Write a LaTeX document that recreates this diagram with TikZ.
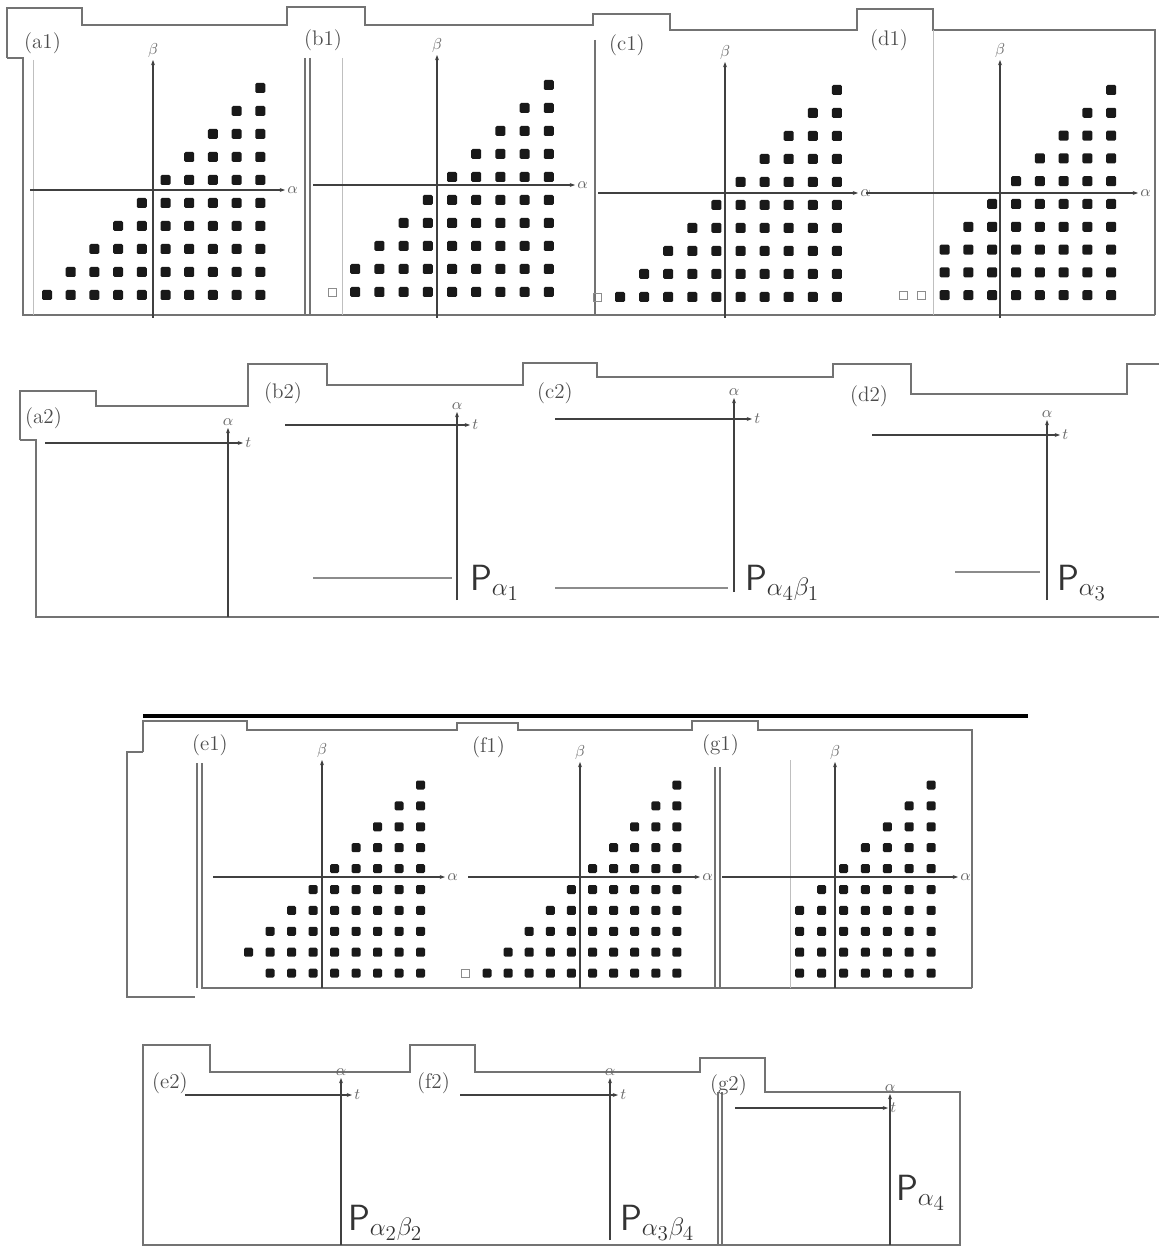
\documentclass[tikz,border=0pt]{standalone}
\usetikzlibrary{arrows.meta}

% grade de pontos (triangulo): coluna 0 em #1, passo #2; linha 0 em #3, passo #4
% #5 primeira coluna de todas as linhas, #6 primeira coluna da ultima linha
\newcommand{\dotgrid}[6]{%
  \foreach \rr in {0,...,9}{%
    \pgfmathtruncatemacro{\cfirst}{max(9-\rr,#5)}%
    \ifnum\rr=9 \pgfmathtruncatemacro{\cfirst}{max(\cfirst,#6)}\fi
    \foreach \cc in {\cfirst,...,9}{%
      \fill[dot] ({#1+\cc*#2-\ds/2},{#3+\rr*#4-\ds/2}) rectangle ++(\ds,\ds);
    }%
  }%
}

\begin{document}
\begin{tikzpicture}[x=0.02cm, y=-0.02cm,
    frame/.style={draw=black!55, line width=0.6pt},
    inner/.style={draw=black!25, line width=0.5pt},
    level/.style={draw=black!45, line width=0.6pt},
    axis/.style={draw=black!75, line width=0.7pt, -{Stealth[length=3pt]}},
    dot/.style={fill=black!90, rounded corners=0.8pt},
    hole/.style={draw=black!45, line width=0.5pt},
    tag/.style={font=\large, text=black!70, inner sep=1pt, anchor=west},
    axlab/.style={font=\small, text=black!60, inner sep=1pt},
    plab/.style={font=\huge, text=black!80, inner sep=1pt, anchor=base west}]

    \useasboundingbox (0,0) rectangle (1159,1260);

    % 1. VARIAVEIS
    \def\ds{10}   % lado de cada ponto

    % ==========================================
    % 2. LINHA (a1)-(d1): molduras
    % ==========================================
    \draw[frame] (7,58) -- (7,8) -- (82,8) -- (82,25) -- (287,25) -- (287,7) -- (365,7)
        -- (365,25) -- (593,25) -- (593,14) -- (670,14) -- (670,30) -- (857,30) -- (857,9)
        -- (933,9) -- (933,30) -- (1155,30) -- (1155,315);
    \draw[frame] (7,58) -- (23,58) -- (23,315) -- (1155,315);
    \draw[frame] (305,58) -- (305,315);
    \draw[frame] (310,58) -- (310,315);
    \draw[frame] (595,40) -- (595,315);
    \draw[inner] (33,60) -- (33,315);
    \draw[inner] (342,58) -- (342,315);
    \draw[inner] (933,30) -- (933,315);

    \node[tag] (a1) at (22,43) {(a1)};
    \node[tag] (b1) at (302,40) {(b1)};
    \node[tag] (c1) at (607,45) {(c1)};
    \node[tag] (d1) at (868,40) {(d1)};

    % eixos
    \draw[axis] (153,318) -- (153,60) node[above, axlab] (a1beta) {$\beta$};
    \draw[axis] (30,190) -- (285,190) node[right, axlab] (a1alpha) {$\alpha$};
    \draw[axis] (437,318) -- (437,55) node[above, axlab] (b1beta) {$\beta$};
    \draw[axis] (313,185) -- (575,185) node[right, axlab] (b1alpha) {$\alpha$};
    \draw[axis] (725,318) -- (725,62) node[above, axlab] (c1beta) {$\beta$};
    \draw[axis] (598,193) -- (858,193) node[right, axlab] (c1alpha) {$\alpha$};
    \draw[axis] (1000,318) -- (1000,60) node[above, axlab] (d1beta) {$\beta$};
    \draw[axis] (866,193) -- (1138,193) node[right, axlab] (d1alpha) {$\alpha$};

    % pontos
    \dotgrid{47}{23.7}{88}{23}{0}{0}
    \dotgrid{331}{24.2}{85}{23}{1}{1}
    \dotgrid{620}{24.1}{90}{23}{0}{0}
    \dotgrid{897}{23.8}{90}{22.8}{2}{2}
    \draw[hole] (328,288) rectangle ++(8,8);
    \draw[hole] (593,293) rectangle ++(8,8);
    \draw[hole] (899,291) rectangle ++(8,8);
    \draw[hole] (917,291) rectangle ++(8,8);

    % ==========================================
    % 3. LINHA (a2)-(d2)
    % ==========================================
    \draw[frame] (20,440) -- (20,391) -- (96,391) -- (96,406) -- (248,406) -- (248,364)
        -- (327,364) -- (327,385) -- (523,385) -- (523,363) -- (597,363) -- (597,377)
        -- (833,377) -- (833,364) -- (911,364) -- (911,394) -- (1127,394) -- (1127,364)
        -- (1159,364);
    \draw[frame] (20,440) -- (36,440) -- (36,617) -- (1159,617);

    \node[tag] (a2) at (23,418) {(a2)};
    \node[tag] (b2) at (262,393) {(b2)};
    \node[tag] (c2) at (535,393) {(c2)};
    \node[tag] (d2) at (848,396) {(d2)};

    \draw[axis] (228,617) -- (228,428) node[above, axlab] (a2alpha) {$\alpha$};
    \draw[axis] (45,443) -- (243,443) node[right, axlab] (a2t) {$t$};
    \draw[axis] (457,600) -- (457,412) node[above, axlab] (b2alpha) {$\alpha$};
    \draw[axis] (285,425) -- (470,425) node[right, axlab] (b2t) {$t$};
    \draw[axis] (734,592) -- (734,398) node[above, axlab] (c2alpha) {$\alpha$};
    \draw[axis] (555,419) -- (752,419) node[right, axlab] (c2t) {$t$};
    \draw[axis] (1047,600) -- (1047,420) node[above, axlab] (d2alpha) {$\alpha$};
    \draw[axis] (872,435) -- (1060,435) node[right, axlab] (d2t) {$t$};

    \draw[level] (313,578) -- (452,578);
    \draw[level] (555,588) -- (728,588);
    \draw[level] (955,572) -- (1040,572);

    \node[plab] (b2P) at (468,590) {$\mathsf{P}_{\alpha_1}$};
    \node[plab] (c2P) at (743,590) {$\mathsf{P}_{\alpha_4\beta_1}$};
    \node[plab] (d2P) at (1055,590) {$\mathsf{P}_{\alpha_3}$};

    % ==========================================
    % 4. LINHA (e1)-(g1)
    % ==========================================
    \draw[line width=2.4pt] (143,716) -- (1028,716);
    \draw[frame] (143,752) -- (143,721) -- (178,721) -- (247,721) -- (247,730) -- (457,730)
        -- (457,723) -- (518,723) -- (518,730) -- (692,730) -- (692,721) -- (758,721)
        -- (758,730) -- (972,730) -- (972,988);
    \draw[frame] (143,752) -- (127,752) -- (127,997) -- (195,997);
    \draw[frame] (197,763) -- (197,988);
    \draw[frame] (202,763) -- (202,988) -- (972,988);
    \draw[frame] (715,767) -- (715,988);
    \draw[frame] (720,767) -- (720,988);
    \draw[inner] (790,760) -- (790,988);

    \node[tag] (e1) at (190,745) {(e1)};
    \node[tag] (f1) at (470,747) {(f1)};
    \node[tag] (g1) at (700,745) {(g1)};

    \draw[axis] (322,988) -- (322,760) node[above, axlab] (e1beta) {$\beta$};
    \draw[axis] (213,877) -- (445,877) node[right, axlab] (e1alpha) {$\alpha$};
    \draw[axis] (580,988) -- (580,762) node[above, axlab] (f1beta) {$\beta$};
    \draw[axis] (468,877) -- (700,877) node[right, axlab] (f1alpha) {$\alpha$};
    \draw[axis] (835,988) -- (835,762) node[above, axlab] (g1beta) {$\beta$};
    \draw[axis] (722,877) -- (958,877) node[right, axlab] (g1alpha) {$\alpha$};

    \def\ds{9}
    \dotgrid{227}{21.5}{785}{20.9}{0}{2}
    \dotgrid{487}{21.1}{785}{20.9}{0}{0}
    \dotgrid{734}{21.9}{785}{20.9}{3}{3}
    \draw[hole] (461,969) rectangle ++(8,8);

    % ==========================================
    % 5. LINHA (e2)-(g2)
    % ==========================================
    \draw[frame] (143,1245) -- (143,1045) -- (210,1045) -- (210,1072) -- (410,1072)
        -- (410,1045) -- (475,1045) -- (475,1072) -- (700,1072) -- (700,1058) -- (765,1058)
        -- (765,1092) -- (960,1092) -- (960,1245) -- cycle;
    \draw[frame] (718,1092) -- (718,1245);
    \draw[frame] (722,1092) -- (722,1245);

    \node[tag] (e2) at (150,1083) {(e2)};
    \node[tag] (f2) at (415,1083) {(f2)};
    \node[tag] (g2) at (708,1085) {(g2)};

    \draw[axis] (341,1245) -- (341,1078) node[above, axlab] (e2alpha) {$\alpha$};
    \draw[axis] (185,1095) -- (352,1095) node[right, axlab] (e2t) {$t$};
    \draw[axis] (610,1240) -- (610,1078) node[above, axlab] (f2alpha) {$\alpha$};
    \draw[axis] (460,1095) -- (618,1095) node[right, axlab] (f2t) {$t$};
    \draw[axis] (890,1245) -- (890,1094) node[above, axlab] (g2alpha) {$\alpha$};
    \draw[axis] (735,1108) -- (888,1108) node[right, axlab] (g2t) {$t$};

    \node[plab] (e2P) at (346,1230) {$\mathsf{P}_{\alpha_2\beta_2}$};
    \node[plab] (f2P) at (618,1230) {$\mathsf{P}_{\alpha_3\beta_4}$};
    \node[plab] (g2P) at (894,1200) {$\mathsf{P}_{\alpha_4}$};
\end{tikzpicture}
\end{document}
